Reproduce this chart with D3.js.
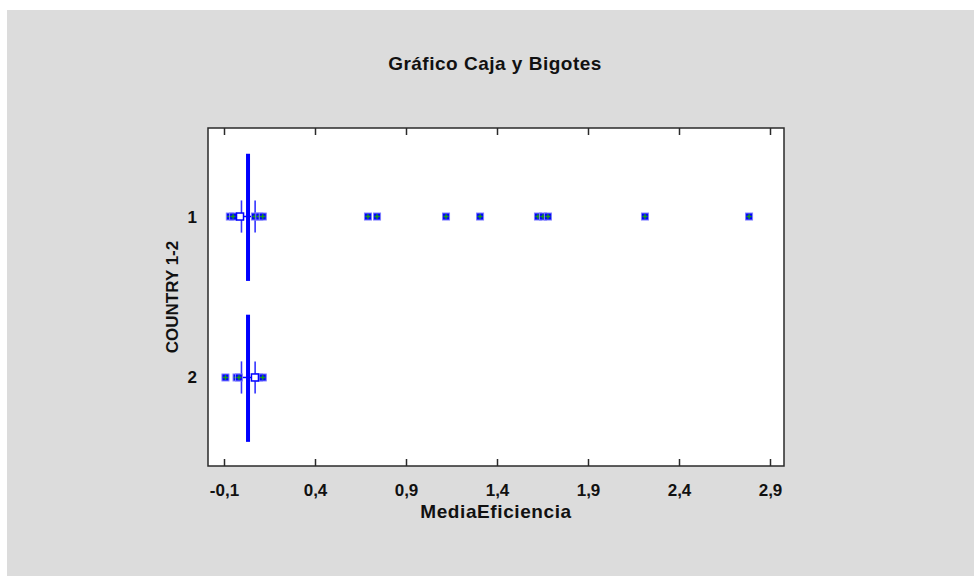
<!DOCTYPE html>
<html>
<head>
	<meta charset="utf-8">
	<script src="https://cdn.jsdelivr.net/npm/d3@7"></script>
	<style>
		body { margin: 0; background: #fff; }
		text { font-family: 'Liberation Sans', Arial, sans-serif; font-weight: bold; fill: #111; }
	</style>
	<title>Gráfico Caja y Bigotes</title>
</head>
<body>
	<script>
		// categories (rows of the plot)
		var categories = ["1", "2"];
		// box: first and third quartile
		var boxQ1 = [0.021, 0.021];
		var boxQ3 = [0.043, 0.043];
		// thin vertical marks each side of the box
		var markLow = [-0.004, -0.004];
		var markHigh = [0.071, 0.071];
		// whisker line extents
		var whiskerMin = [-0.078, -0.04];
		var whiskerMax = [0.12, 0.12];
		// outside points
		var points1 = [-0.068, -0.05, 0.07, 0.094, 0.113, 0.691, 0.741, 1.12, 1.307, 1.625, 1.653, 1.68, 2.213, 2.785];
		var points2 = [-0.092, -0.031, -0.018, 0.092, 0.113];
		// open markers
		var open1 = [-0.012];
		var open2 = [0.07];
		// x tick values
		var xTicks = [-0.1, 0.4, 0.9, 1.4, 1.9, 2.4, 2.9];

		var width = 974, height = 576;
		var plot = { left: 208, right: 784, top: 128, bottom: 466 };

		var locale = d3.formatLocale({ decimal: ",", thousands: ".", grouping: [3], currency: ["", ""], minus: "-" });
		var fmt = locale.format(".1f");

		var x = d3.scaleLinear()
			.domain([-0.1 - 16 / 182, 2.9 + 14 / 182])
			.range([plot.left, plot.right]);
		var y = d3.scalePoint()
			.domain(categories)
			.range([plot.top, plot.bottom])
			.padding(0.55);
		var step = y.step();

		var svg = d3.select('body').append('svg')
			.attr('width', width)
			.attr('height', height);

		// grey panel
		svg.append('rect')
			.attr('x', 7).attr('y', 10)
			.attr('width', width - 7).attr('height', height - 10)
			.attr('fill', '#dcdcdc');

		// plot area
		svg.append('rect')
			.attr('x', plot.left).attr('y', plot.top)
			.attr('width', plot.right - plot.left).attr('height', plot.bottom - plot.top)
			.attr('fill', '#fff')
			.attr('stroke', '#2a2a2a')
			.attr('stroke-width', 1.5);

		// ticks on bottom and top, pointing inward
		svg.append('g')
			.attr('transform', `translate(0,${plot.bottom})`)
			.call(d3.axisBottom(x).tickValues(xTicks).tickSize(-7).tickFormat(fmt).tickPadding(18))
			.call(g => g.select('.domain').remove())
			.call(g => g.selectAll('line').attr('stroke', '#2a2a2a').attr('stroke-width', 1.5))
			.call(g => g.selectAll('text').attr('font-size', 17).attr('fill', '#111')
				.attr('font-family', "'Liberation Sans', Arial, sans-serif"));
		svg.append('g')
			.attr('transform', `translate(0,${plot.top})`)
			.call(d3.axisTop(x).tickValues(xTicks).tickSize(-7).tickFormat(''))
			.call(g => g.select('.domain').remove())
			.call(g => g.selectAll('line').attr('stroke', '#2a2a2a').attr('stroke-width', 1.5));

		// y category labels
		svg.append('g')
			.selectAll('text')
			.data(categories)
			.enter()
			.append('text')
			.attr('x', 197)
			.attr('y', d => y(d) + 6)
			.attr('text-anchor', 'end')
			.attr('font-size', 17)
			.text(d => d);

		// title and axis titles
		svg.append('text')
			.attr('x', 495).attr('y', 70)
			.attr('text-anchor', 'middle')
			.attr('font-size', 19)
			.attr('letter-spacing', 0.5)
			.text('Gráfico Caja y Bigotes');
		svg.append('text')
			.attr('x', 496).attr('y', 518)
			.attr('text-anchor', 'middle')
			.attr('font-size', 19)
			.attr('letter-spacing', 0.6)
			.text('MediaEficiencia');
		svg.append('text')
			.attr('transform', `translate(178,${(plot.top + plot.bottom) / 2}) rotate(-90)`)
			.attr('text-anchor', 'middle')
			.attr('font-size', 17)
			.text('COUNTRY 1-2');

		var blue = '#0000ff';
		var rows = categories.map((c, i) => ({
			cat: c, q1: boxQ1[i], q3: boxQ3[i], lo: markLow[i], hi: markHigh[i],
			wmin: whiskerMin[i], wmax: whiskerMax[i],
			pts: i == 0 ? points1 : points2,
			open: i == 0 ? open1 : open2
		}));

		var g = svg.append('g');
		rows.forEach(function (r) {
			var cy = y(r.cat);
			// whisker line
			g.append('line')
				.attr('x1', x(r.wmin)).attr('x2', x(r.wmax))
				.attr('y1', cy).attr('y2', cy)
				.attr('stroke', blue).attr('stroke-width', 1.5);
			// thin vertical marks
			[r.lo, r.hi].forEach(v => {
				g.append('line')
					.attr('x1', x(v)).attr('x2', x(v))
					.attr('y1', cy - 0.1 * step).attr('y2', cy + 0.1 * step)
					.attr('stroke', blue).attr('stroke-opacity', 0.8).attr('stroke-width', 1.6);
			});
			// outside points
			r.pts.forEach(v => drawMarker(g, x(v), cy, false));
			r.open.forEach(v => drawMarker(g, x(v), cy, true));
			// box (collapsed to a thick bar)
			g.append('rect')
				.attr('x', x(r.q1)).attr('y', cy - 0.39 * step)
				.attr('width', Math.max(x(r.q3) - x(r.q1), 3.5))
				.attr('height', 0.79 * step)
				.attr('fill', blue);
		});

		// small square marker with a green cross
		function drawMarker(g, cx, cy, open) {
			g.append('rect')
				.attr('x', cx - 3.5).attr('y', cy - 3.5)
				.attr('width', 7).attr('height', 7)
				.attr('fill', open ? '#fff' : blue)
				.attr('stroke', open ? blue : '#8080ff')
				.attr('stroke-width', open ? 1.5 : 1);
			if (!open) {
				g.append('path')
					.attr('d', `M${cx - 2.5},${cy}H${cx + 2.5}M${cx},${cy - 2.5}V${cy + 2.5}`)
					.attr('stroke', '#1a9a1a')
					.attr('stroke-width', 1.3);
			}
		}
	</script>
</body>
</html>
